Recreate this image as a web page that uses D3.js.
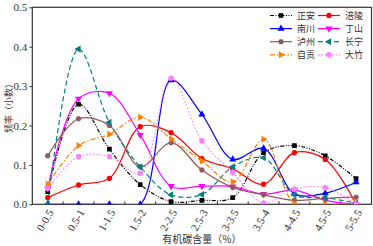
<!DOCTYPE html>
<html>
<head>
<meta charset="utf-8">
<script src="https://cdn.jsdelivr.net/npm/d3@7"></script>
<style>
  body { margin: 0; background: #fff; }
  svg { display: block; }
</style>
</head>
<body>
<script>
// categories (organic carbon content ranges)
const categories = ["0-0.5", "0.5-1", "1-1.5", "1.5-2", "2-2.5", "2.5-3", "3-3.5", "3.5-4", "4-4.5", "4.5-5", "5-5.5"];
const yTicks = [0, 0.1, 0.2, 0.3, 0.4, 0.5];

// frequency per area
const zhengan  = [0.032, 0.254, 0.140, 0.050, 0.007, 0.010, 0.017, 0.131, 0.149, 0.123, 0.065];
const fuling   = [0.017, 0.049, 0.066, 0.197, 0.182, 0.116, 0.090, 0.051, 0.131, 0.114, 0.000];
const nanchuan = [0.000, 0.000, 0.000, 0.000, 0.315, 0.228, 0.114, 0.142, 0.027, 0.028, 0.056];
const dingshan = [0.040, 0.268, 0.282, 0.176, 0.046, 0.046, 0.045, 0.026, 0.036, 0.010, 0.000];
const luzhou   = [0.123, 0.217, 0.200, 0.095, 0.156, 0.087, 0.043, 0.024, 0.010, 0.015, 0.018];
const changning= [0.000, 0.394, 0.208, 0.095, 0.024, 0.025, 0.095, 0.118, 0.024, 0.017, 0.003];
const zigong   = [0.051, 0.149, 0.178, 0.221, 0.166, 0.110, 0.057, 0.165, 0.002, 0.000, 0.000];
const dazhu    = [0.040, 0.121, 0.121, 0.079, 0.320, 0.161, 0.081, 0.003, 0.039, 0.042, 0.000];

const names = ["正安", "涪陵", "南川", "丁山", "泸州", "长宁", "自贡", "大竹"];

// custom hexagon marker
const symbolHex = {
  draw(ctx, size) {
    const r = Math.sqrt(size / 2.598);
    for (let i = 0; i < 6; i++) {
      const a = Math.PI / 3 * i;
      if (i === 0) ctx.moveTo(r * Math.cos(a), r * Math.sin(a));
      else ctx.lineTo(r * Math.cos(a), r * Math.sin(a));
    }
    ctx.closePath();
  }
};

const series = [
  { name: names[0], values: zhengan,   color: "#000000", dash: "4,1.5,1,1.5,1,1.5", sym: d3.symbolSquare,   size: 22, rot: 0 },
  { name: names[1], values: fuling,    color: "#ff0000", dash: null,                sym: d3.symbolCircle,   size: 22, rot: 0 },
  { name: names[2], values: nanchuan,  color: "#0000ff", dash: null,                sym: d3.symbolTriangle, size: 22, rot: 0 },
  { name: names[3], values: dingshan,  color: "#ff00ff", dash: null,                sym: d3.symbolTriangle, size: 22, rot: 180 },
  { name: names[4], values: luzhou,    color: "#8f5a5a", dash: null,                sym: symbolHex,         size: 22, rot: 0 },
  { name: names[5], values: changning, color: "#008080", dash: "5,3",               sym: d3.symbolTriangle, size: 22, rot: -90 },
  { name: names[6], values: zigong,    color: "#ff8000", dash: "5,2,1.5,2",         sym: d3.symbolTriangle, size: 22, rot: 90 },
  { name: names[7], values: dazhu,     color: "#ff80ff", dash: "1.5,2",             sym: d3.symbolCircle,   size: 24, rot: 0 }
];

const W = 373, H = 246;
const pLeft = 32.3, pRight = 371.5, pTop = 7.3, pBottom = 204.3;

const svg = d3.select("body").
append("svg").
attr("width", W).
attr("height", H);

const x = d3.scaleLinear().
domain([-0.5, categories.length - 0.5]).
range([pLeft, pRight]);

const y = d3.scaleLinear().
domain([0, 0.5]).
range([pBottom, pTop]);

svg.append("defs").append("clipPath").
attr("id", "clip").
append("rect").
attr("x", pLeft).
attr("y", pTop).
attr("width", pRight - pLeft).
attr("height", pBottom - pTop);

// frame
svg.append("rect").
attr("x", pLeft).
attr("y", pTop).
attr("width", pRight - pLeft).
attr("height", pBottom - pTop).
attr("fill", "none").
attr("stroke", "#333").
attr("stroke-width", 1.2);

// y axis, short ticks outside
const yAxis = d3.axisLeft(y).
tickValues(yTicks).
tickFormat(d3.format(".1f")).
tickSizeInner(3).
tickSizeOuter(0).
tickPadding(2);

const gy = svg.append("g").
attr("transform", "translate(" + pLeft + ",0)").
call(yAxis);
gy.select(".domain").remove();
gy.selectAll("line").attr("stroke", "#333");
gy.selectAll("text").
attr("font-family", "Liberation Serif").
attr("font-size", 11).
attr("fill", "#333");

// x axis: ticks at the category boundaries
const bounds = d3.range(0.5, categories.length - 1, 1);
svg.append("g").
selectAll("line").
data(bounds).
enter().
append("line").
attr("x1", d => x(d)).
attr("x2", d => x(d)).
attr("y1", pBottom).
attr("y2", pBottom - 3).
attr("stroke", "#333");

svg.append("g").
selectAll("text").
data(categories).
enter().
append("text").
attr("transform", (d, i) => "translate(" + (x(i) + 3) + "," + (pBottom + 6) + ") rotate(-60)").
attr("text-anchor", "end").
attr("dy", "0.35em").
attr("font-family", "Liberation Serif").
attr("font-size", 11).
attr("fill", "#333").
text(d => d);

// axis titles
svg.append("text").
attr("x", (pLeft + pRight) / 2).
attr("y", 243).
attr("text-anchor", "middle").
attr("font-family", "Noto Sans CJK SC").
attr("font-size", 10).
attr("fill", "#333").
text("有机碳含量（%）");

svg.append("text").
attr("transform", "translate(8.5,106) rotate(-90)").
attr("text-anchor", "middle").
attr("dy", "0.35em").
attr("font-family", "Noto Sans CJK SC").
attr("font-size", 9).
attr("fill", "#333").
text("频率（小数）");

// lines
const line = d3.line().
x((d, i) => x(i)).
y(d => y(d)).
curve(d3.curveCatmullRom.alpha(0.5));

const plot = svg.append("g").attr("clip-path", "url(#clip)");

series.forEach(s => {
  plot.append("path").
  datum(s.values).
  attr("d", line).
  attr("fill", "none").
  attr("stroke", s.color).
  attr("stroke-width", 1.2).
  attr("stroke-dasharray", s.dash);
});

series.forEach(s => {
  plot.append("g").
  selectAll("path").
  data(s.values).
  enter().
  append("path").
  attr("d", d3.symbol().type(s.sym).size(s.size)).
  attr("transform", (d, i) => "translate(" + x(i) + "," + y(d) + ") rotate(" + s.rot + ")").
  attr("fill", s.color);
});

// legend, two columns
const legend = svg.append("g");
series.forEach((s, i) => {
  const col = i % 2, row = Math.floor(i / 2);
  const lx = 270 + col * 48, ly = 15.5 + row * 13.1;
  const g = legend.append("g").attr("transform", "translate(" + lx + "," + ly + ")");
  g.append("line").
  attr("x1", 0).
  attr("x2", 22).
  attr("stroke", s.color).
  attr("stroke-width", 1.2).
  attr("stroke-dasharray", s.dash);
  g.append("path").
  attr("d", d3.symbol().type(s.sym).size(s.size)).
  attr("transform", "translate(11,0) rotate(" + s.rot + ")").
  attr("fill", s.color);
  g.append("text").
  attr("x", 27).
  attr("dy", "0.35em").
  attr("font-family", "Noto Sans CJK SC").
  attr("font-size", 9).
  attr("fill", "#333").
  text(s.name);
});
</script>
</body>
</html>
